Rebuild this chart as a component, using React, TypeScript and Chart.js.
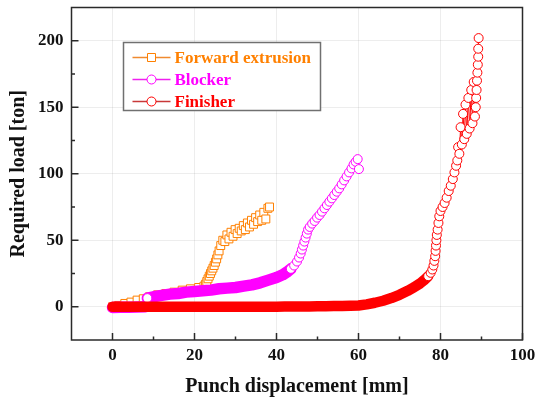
import { useEffect, useRef } from 'react';
import { Chart, registerables } from 'chart.js';

Chart.register(...registerables);

// ---------------- data ----------------
const seriesNames = ['Forward extrusion', 'Blocker', 'Finisher'];
const xTitle = 'Punch displacement [mm]';
const yTitle = 'Required load [ton]';

const xTicks = [0, 20, 40, 60, 80, 100];
const yTicks = [0, 50, 100, 150, 200];
const xMinorTicks = [10, 30, 50, 70, 90];
const yMinorTicks = [25, 75, 125, 175];

const forwardX = [0, 1.5, 3, 4.5, 6, 7.5, 9, 11, 13, 15, 17, 19, 21, 22.3, 22.7, 23.0, 23.3, 23.6, 23.9, 24.2, 24.5, 24.8, 25.1, 25.4, 25.7, 26.0,
  26.4, 26.9, 27.4, 27.9, 28.4, 28.9, 29.4, 29.9, 30.4, 30.9, 31.4, 31.9, 32.4, 32.9, 33.4, 33.9, 34.4, 34.9, 35.4, 35.9, 36.4, 36.9, 37.4, 37.9, 38.3];
const forwardY = [0, 1, 2.5, 3.5, 5, 6, 7.5, 9, 10, 11, 12.5, 13.5, 14.5, 15.5, 17, 19, 21, 23, 25, 27, 29, 31, 33.5, 36, 39, 42,
  46, 50, 49, 54, 51, 56, 53, 58, 55, 59, 57, 61, 58, 63, 60, 65, 62, 67, 64, 69, 65, 71, 66, 74, 75];

const blockerX = [0, 2, 4, 6, 8, 8.5, 10, 12, 14, 16, 18, 20, 22, 24, 26, 28, 30, 32, 34, 36, 38, 40, 41.5, 42.5, 43.5, 44.3, 45, 45.5, 45.9, 46.2,
  46.5, 46.8, 47.1, 47.4, 47.7, 48.1, 48.7, 49.3, 49.9, 50.5, 51.1, 51.7, 52.3, 52.9, 53.5, 54.1, 54.7, 55.3, 55.9, 56.5, 57.1, 57.7, 58.3, 58.8,
  59.3, 59.8, 60.1];
const blockerY = [-0.5, -0.4, -0.3, -0.2, 0, 6.5, 7.5, 8.5, 9.5, 10, 11, 11.5, 12, 12.5, 13.5, 14, 14.5, 15.5, 16.5, 18, 20, 22, 24, 26, 28.5, 31,
  34, 37, 40, 43, 46, 49, 52, 55, 58, 60, 62.5, 64.5, 67, 69, 71.5, 74, 76.5, 79, 81.5, 84, 86.5, 89, 92, 95, 98, 101, 104, 107, 109, 111, 103.5];

const finisherX = [0, 2, 4, 6, 8, 10, 12, 14, 16, 18, 20, 22, 24, 26, 28, 30, 32, 34, 36, 38, 40, 42, 44, 46, 48, 50, 52, 54, 56, 58, 60, 62, 64,
  66, 68, 70, 72, 73.5, 75, 76, 77, 77.6, 78, 78.3, 78.5, 78.7, 78.8, 78.9, 79.0, 79.1, 79.3, 79.5, 79.7, 80, 80.5, 81, 81.5, 82, 82.5, 83, 83.4,
  83.8, 84.1, 84.3, 84.6, 84.9, 85.2, 85.5, 85.8, 86.1, 86.4, 86.8, 87.1, 87.5, 87.8, 88.1, 88.4, 88.6, 88.7, 88.8, 88.9, 89.0, 89.1, 89.2, 89.2, 89.3];
const finisherY = [0, 0, 0, 0, 0, 0, 0, 0, 0, 0, 0, 0, 0, 0, 0, 0, 0, 0, 0, 0, 0, 0.1, 0.1, 0.2, 0.2, 0.3, 0.4, 0.5, 0.6, 0.8, 1, 1.8, 3,
  4.5, 6.5, 9, 12, 14.5, 17.5, 20, 23, 25.5, 28, 31, 34.5, 38, 42, 46, 50, 54, 58, 63, 68, 72, 75, 78, 82, 87, 91, 96, 101,
  106, 110, 120, 115, 135, 122, 145, 126, 152, 130, 157, 134, 163, 138, 169, 143, 150, 157, 163, 170, 176, 182, 188, 194, 202];

// ---------------- styling ----------------
const COLORS = ['#FF8000', '#FF00FF', '#FF0000'];
const LEGEND_LINE = ['#F08A30', '#F020F0', '#C83838'];
const BAND_WIDTH = [1, 11.5, 10.5];
const FONT = '"Liberation Serif", "Times New Roman", Times, serif';
const FLAT = 1.0;

function toPoints(xs: number[], ys: number[]) {
  return xs.map((x, i) => ({ x, y: ys[i] }));
}

function segFlat(ax: number, ay: number, bx: number, by: number) {
  return Math.abs(by - ay) < FLAT * Math.abs(bx - ax);
}

function px(chart: any, p: any) {
  return [chart.scales.x.getPixelForValue(p.x), chart.scales.y.getPixelForValue(p.y)];
}

function bandRadius(r: number) {
  return (ctx: any) => {
    const chart = ctx.chart;
    const data = ctx.dataset.data;
    const i = ctx.dataIndex;
    if (!chart.scales || !chart.scales.x || !data[i]) return r;
    const c = px(chart, data[i]);
    let n = 0;
    let flat = 0;
    for (const j of [i - 1, i + 1]) {
      if (j < 0 || j >= data.length) continue;
      n++;
      const o = px(chart, data[j]);
      if (segFlat(c[0], c[1], o[0], o[1])) flat++;
    }
    return n > 0 && flat === n ? 0 : r;
  };
}

const frameAndLegend = {
  id: 'frameAndLegend',
  afterDraw(chart: any) {
    const { ctx, chartArea } = chart;
    const { left, right, top, bottom } = chartArea;
    const xs = chart.scales.x;
    const ys = chart.scales.y;
    ctx.save();
    ctx.strokeStyle = '#2a2a2a';
    ctx.lineWidth = 1.5;
    ctx.strokeRect(left, top, right - left, bottom - top);
    ctx.beginPath();
    for (const v of xTicks) {
      const x = xs.getPixelForValue(v);
      ctx.moveTo(x, bottom);
      ctx.lineTo(x, bottom - 7);
    }
    for (const v of xMinorTicks) {
      const x = xs.getPixelForValue(v);
      ctx.moveTo(x, bottom);
      ctx.lineTo(x, bottom - 3.5);
    }
    for (const v of yTicks) {
      const y = ys.getPixelForValue(v);
      ctx.moveTo(left, y);
      ctx.lineTo(left + 7, y);
    }
    for (const v of yMinorTicks) {
      const y = ys.getPixelForValue(v);
      ctx.moveTo(left, y);
      ctx.lineTo(left + 3.5, y);
    }
    ctx.stroke();

    // legend
    const bx = left + 52;
    const by = top + 35;
    const bw = 197;
    const bh = 68;
    ctx.fillStyle = '#ffffff';
    ctx.fillRect(bx, by, bw, bh);
    ctx.strokeStyle = '#707070';
    ctx.lineWidth = 1.5;
    ctx.strokeRect(bx, by, bw, bh);
    ctx.font = `bold 17px ${FONT}`;
    ctx.textBaseline = 'middle';
    ctx.textAlign = 'left';
    seriesNames.forEach((name, i) => {
      const y = by + 15 + i * 22;
      const x0 = bx + 9;
      const x1 = bx + 47;
      const mx = (x0 + x1) / 2;
      ctx.strokeStyle = LEGEND_LINE[i];
      ctx.lineWidth = 1.5;
      ctx.beginPath();
      ctx.moveTo(x0, y);
      ctx.lineTo(x1, y);
      ctx.stroke();
      ctx.fillStyle = '#ffffff';
      ctx.strokeStyle = COLORS[i];
      ctx.lineWidth = 1;
      ctx.beginPath();
      if (i === 0) {
        ctx.rect(mx - 4, y - 4, 8, 8);
      } else {
        ctx.arc(mx, y, 4.5, 0, Math.PI * 2);
      }
      ctx.fill();
      ctx.stroke();
      ctx.fillStyle = COLORS[i];
      ctx.fillText(name, bx + 51, y + 1);
    });
    ctx.restore();
  },
};

export default function App() {
  const ref = useRef<HTMLCanvasElement | null>(null);

  useEffect(() => {
    if (!ref.current) return;
    const tickFont = { family: FONT, size: 17, weight: 'bold' as const };
    const titleFont = { family: FONT, size: 20, weight: 'bold' as const };
    const lineSeries = (i: number, xsArr: number[], ysArr: number[], style: string, r: number, band: boolean, order: number) => ({
      label: seriesNames[i],
      data: toPoints(xsArr, ysArr),
      order,
      borderColor: COLORS[i],
      backgroundColor: '#ffffff',
      borderWidth: 1,
      borderCapStyle: 'round',
      borderJoinStyle: 'round',
      tension: 0,
      fill: false,
      pointStyle: style,
      pointRadius: band ? bandRadius(r) : r,
      pointBorderWidth: 1,
      pointBackgroundColor: '#ffffff',
      pointBorderColor: COLORS[i],
      segment: band
        ? { borderWidth: (c: any) => (segFlat(c.p0.x, c.p0.y, c.p1.x, c.p1.y) ? BAND_WIDTH[i] : 1) }
        : undefined,
    });

    const chart = new Chart(ref.current, {
      type: 'line',
      data: {
        datasets: [
          lineSeries(0, forwardX, forwardY, 'rect', 5.6, false, 3) as any,
          lineSeries(1, blockerX, blockerY, 'circle', 4.5, true, 2) as any,
          lineSeries(2, finisherX, finisherY, 'circle', 4.5, true, 1) as any,
        ],
      },
      options: {
        animation: false,
        responsive: false,
        devicePixelRatio: 1,
        events: [],
        layout: { padding: { top: 7.5, right: 15.5, left: 0, bottom: 0 } },
        plugins: { legend: { display: false }, tooltip: { enabled: false } },
        scales: {
          x: {
            type: 'linear',
            min: -10,
            max: 100,
            afterBuildTicks: (s: any) => { s.ticks = xTicks.map((v) => ({ value: v })); },
            afterFit: (s: any) => { s.height = 63; s.paddingLeft = 0; s.paddingRight = 0; },
            grid: { color: 'rgba(0,0,0,0.07)', drawTicks: false, lineWidth: 1 },
            border: { display: false },
            ticks: { font: tickFont, color: '#111', padding: 5, maxRotation: 0, autoSkip: false },
            title: { display: true, text: xTitle, font: titleFont, color: '#111', padding: { top: 0, bottom: 4 } },
          },
          y: {
            type: 'linear',
            min: -25,
            max: 225,
            afterBuildTicks: (s: any) => { s.ticks = yTicks.map((v) => ({ value: v })); },
            afterFit: (s: any) => { s.width = 71.5; s.paddingTop = 0; s.paddingBottom = 0; },
            grid: { color: 'rgba(0,0,0,0.07)', drawTicks: false, lineWidth: 1 },
            border: { display: false },
            ticks: { font: tickFont, color: '#111', padding: 8, autoSkip: false },
            title: { display: true, text: yTitle, font: titleFont, color: '#111', padding: { top: 7, bottom: 0 } },
          },
        },
      },
      plugins: [frameAndLegend],
    } as any);
    return () => chart.destroy();
  }, []);

  return (
    <div style={{ position: 'absolute', left: 0, top: 0, width: 538, height: 403, background: '#fff' }}>
      <canvas ref={ref} width={538} height={403} style={{ display: 'block' }} />
    </div>
  );
}
